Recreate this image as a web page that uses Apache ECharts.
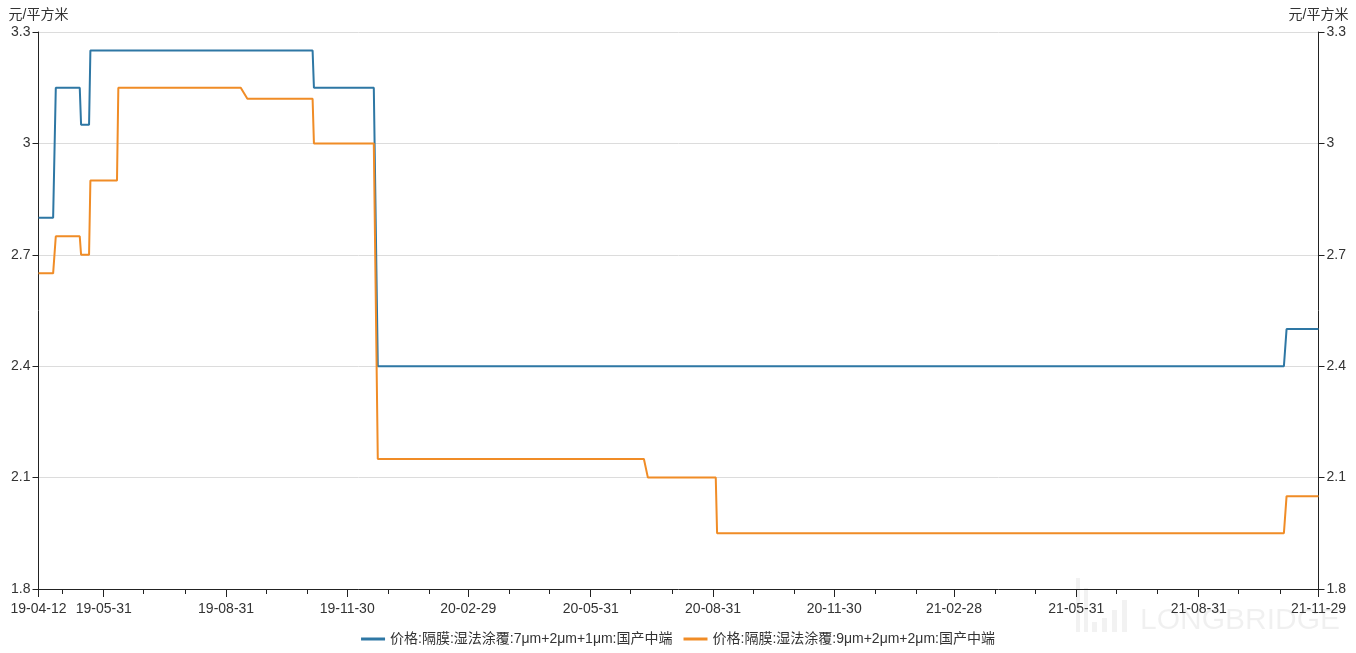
<!DOCTYPE html>
<html>
<head>
<meta charset="utf-8">
<script src="https://cdn.jsdelivr.net/npm/echarts@6/dist/echarts.min.js"></script>
<style>html,body{margin:0;padding:0;background:#fff}#c{width:1356px;height:653px}</style>
</head>
<body>
<div id="c"></div>
<script>
const seriesNames = ['价格:隔膜:湿法涂覆:7μm+2μm+1μm:国产中端', '价格:隔膜:湿法涂覆:9μm+2μm+2μm:国产中端'];
const unitName = '元/平方米';

const blueDates = ['2019-04-12','2019-04-23','2019-04-25','2019-05-13','2019-05-14','2019-05-20','2019-05-21','2019-11-04','2019-11-05','2019-12-20','2019-12-23','2021-11-03','2021-11-05','2021-11-29'];
const blueValues = [2.80, 2.80, 3.15, 3.15, 3.05, 3.05, 3.25, 3.25, 3.15, 3.15, 2.40, 2.40, 2.50, 2.50];

const orangeDates = ['2019-04-12','2019-04-23','2019-04-25','2019-05-13','2019-05-14','2019-05-20','2019-05-21','2019-06-10','2019-06-11','2019-09-11','2019-09-16','2019-11-04','2019-11-05','2019-12-20','2019-12-23','2020-07-10','2020-07-13','2020-09-02','2020-09-03','2021-11-03','2021-11-05','2021-11-29'];
const orangeValues = [2.65, 2.65, 2.75, 2.75, 2.70, 2.70, 2.90, 2.90, 3.15, 3.15, 3.12, 3.12, 3.00, 3.00, 2.15, 2.15, 2.10, 2.10, 1.95, 1.95, 2.05, 2.05];

const labelDates = ['2019-04-12','2019-05-31','2019-08-31','2019-11-30','2020-02-29','2020-05-31','2020-08-31','2020-11-30','2021-02-28','2021-05-31','2021-08-31','2021-11-29'];
const minorTickDates = ['2019-04-12','2019-04-30','2019-05-31','2019-06-30','2019-07-31','2019-08-31','2019-09-30','2019-10-31','2019-11-30','2019-12-31',
  '2020-01-31','2020-02-29','2020-03-31','2020-04-30','2020-05-31','2020-06-30','2020-07-31','2020-08-31','2020-09-30','2020-10-31','2020-11-30','2020-12-31',
  '2021-01-31','2021-02-28','2021-03-31','2021-04-30','2021-05-31','2021-06-30','2021-07-31','2021-08-31','2021-09-30','2021-10-31','2021-11-29'];
const xStart = '2019-04-12';
const xEnd = '2021-11-29';
const yTicks = [1.8, 2.1, 2.4, 2.7, 3.0, 3.3];

const ts = s => new Date(s + 'T00:00:00Z').getTime();
const pad = n => (n < 10 ? '0' : '') + n;
const fmt = v => { const d = new Date(v); return String(d.getUTCFullYear()).slice(2) + '-' + pad(d.getUTCMonth() + 1) + '-' + pad(d.getUTCDate()); };
const FONT = "'Liberation Sans', Arial, 'Noto Sans CJK SC', sans-serif";
const axisColor = '#222';
const textColor = '#333';
const blue = '#2e77a4';
const orange = '#f08c26';

const chart = echarts.init(document.getElementById('c'), null, {renderer: 'canvas'});
const xBase = {
  type: 'value', min: ts(xStart), max: ts(xEnd), position: 'bottom',
  splitLine: {show: false}
};
const yBase = (pos) => ({
  type: 'value', min: yTicks[0], max: yTicks[yTicks.length - 1], interval: 0.3, position: pos,
  name: unitName, nameLocation: 'end', nameGap: 10,
  nameTextStyle: {color: textColor, fontSize: 14, fontFamily: FONT},
  axisLine: {show: true, lineStyle: {color: axisColor, width: 1}},
  axisTick: {show: true, length: 6, lineStyle: {color: axisColor}},
  axisLabel: {color: textColor, fontSize: 14, fontFamily: FONT, margin: 8},
  splitLine: {show: pos === 'left', lineStyle: {color: '#dcdcdc', width: 1}}
});

chart.setOption({
  animation: false,
  backgroundColor: '#fff',
  grid: {left: 38.5, right: 37.5, top: 32, bottom: 64, containLabel: false},
  legend: {
    top: 627, left: 'center', itemWidth: 24, itemHeight: 3, itemGap: 11,
    textStyle: {color: textColor, fontSize: 14, fontFamily: FONT},
    data: [{name: seriesNames[0], icon: 'rect'}, {name: seriesNames[1], icon: 'rect'}]
  },
  xAxis: [
    Object.assign({}, xBase, {
      axisLine: {show: true, lineStyle: {color: axisColor, width: 1}},
      axisTick: {show: true, length: 8, lineStyle: {color: axisColor}, customValues: labelDates.map(ts)},
      axisLabel: {show: true, color: textColor, fontSize: 14, fontFamily: FONT, margin: 13,
        customValues: labelDates.map(ts), formatter: fmt}
    }),
    Object.assign({}, xBase, {
      axisLine: {show: false},
      axisTick: {show: true, length: 5, lineStyle: {color: axisColor}, customValues: minorTickDates.map(ts)},
      axisLabel: {show: false}
    })
  ],
  yAxis: [yBase('left'), yBase('right')],
  graphic: [
    {type: 'text', left: 1140, top: 606, silent: true,
      style: {text: 'LONGBRIDGE', fill: 'rgba(0,0,0,0.06)', font: "30px 'Liberation Sans', Arial, sans-serif"}},
    {type: 'group', left: 1076, top: 578, silent: true, children: [
      {type: 'rect', shape: {x: 0, y: 0, width: 4, height: 54}, style: {fill: 'rgba(0,0,0,0.05)'}},
      {type: 'rect', shape: {x: 8, y: 10, width: 4, height: 44}, style: {fill: 'rgba(0,0,0,0.05)'}},
      {type: 'rect', shape: {x: 16, y: 44, width: 5, height: 10}, style: {fill: 'rgba(0,0,0,0.05)'}},
      {type: 'rect', shape: {x: 26, y: 40, width: 5, height: 14}, style: {fill: 'rgba(0,0,0,0.05)'}},
      {type: 'rect', shape: {x: 36, y: 32, width: 5, height: 22}, style: {fill: 'rgba(0,0,0,0.05)'}},
      {type: 'rect', shape: {x: 46, y: 22, width: 5, height: 32}, style: {fill: 'rgba(0,0,0,0.05)'}}
    ]}
  ],
  series: [
    {name: seriesNames[0], type: 'line', xAxisIndex: 0, yAxisIndex: 0, showSymbol: false, symbol: 'none',
      lineStyle: {color: blue, width: 2}, itemStyle: {color: blue},
      data: blueDates.map((d, i) => [ts(d), blueValues[i]])},
    {name: seriesNames[1], type: 'line', xAxisIndex: 0, yAxisIndex: 0, showSymbol: false, symbol: 'none',
      lineStyle: {color: orange, width: 2}, itemStyle: {color: orange},
      data: orangeDates.map((d, i) => [ts(d), orangeValues[i]])}
  ]
});
</script>
</body>
</html>
